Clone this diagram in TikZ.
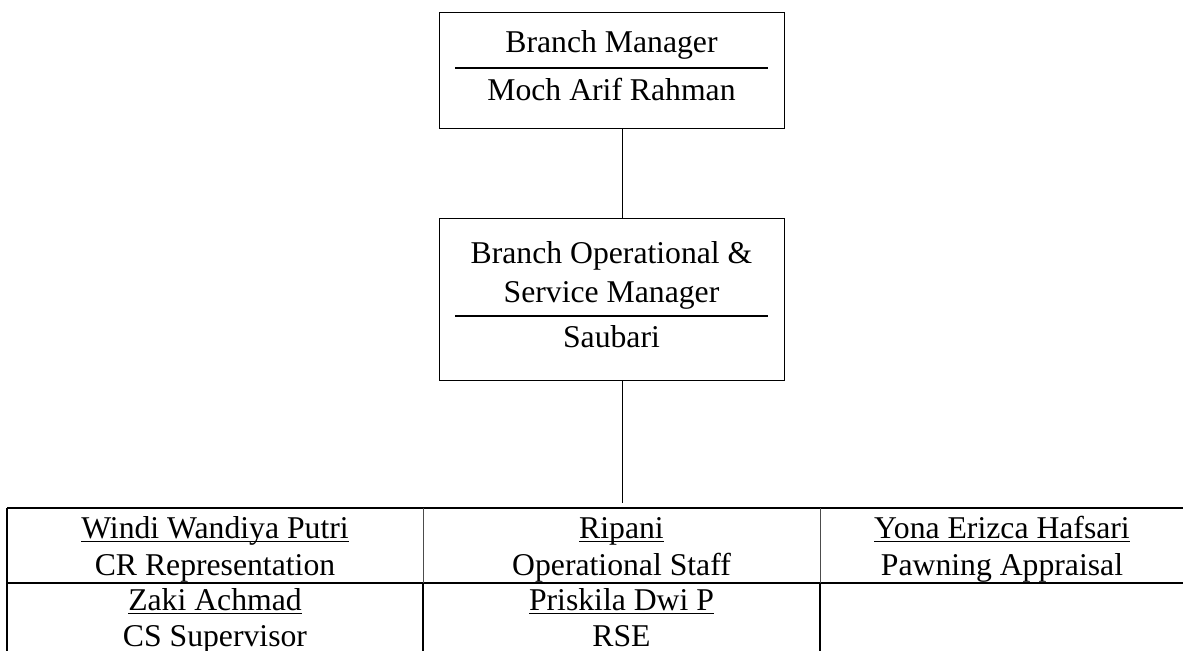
\documentclass[tikz,border=0pt]{standalone}
\usepackage{fontspec}
\setmainfont{Liberation Serif}
\newcommand\ulname[1]{\setbox0\hbox{#1}\rlap{\rule[-2pt]{\wd0}{0.7pt}}\box0}
\begin{document}
\begin{tikzpicture}[x=0.5pt,y=-0.5pt,
  box/.style={draw, line width=0.5pt, inner sep=0, minimum width=172.5pt},
  txt/.style={anchor=base, inner sep=0, font=\fontsize{15.85}{19}\selectfont},
  sep/.style={line width=1pt},
  conn/.style={line width=0.5pt},
  tline/.style={line width=1pt},
  thin/.style={line width=0.5pt, black!70}]
\useasboundingbox (0,0) rectangle (1183,650);
% top box
\node[box, minimum height=58pt] (bm) at (611.5,70) {};
\node[txt] (bmt) at (611.5,52) {Branch Manager};
\node[txt] (bmn) at (611.5,100) {Moch Arif Rahman};
\coordinate (bml) at (455,68);
\coordinate (bmr) at (768,68);
\draw[sep] (bml) -- (bmr);
% middle box
\node[box, minimum height=81pt] (om) at (611.5,299) {};
\node[txt] (omt1) at (611.5,263) {Branch Operational \&};
\node[txt] (omt2) at (611.5,302) {Service Manager};
\node[txt] (omn) at (611.5,347) {Saubari};
\coordinate (oml) at (455,316);
\coordinate (omr) at (768,316);
\draw[sep] (oml) -- (omr);
% connectors
\coordinate (c1) at (622,128);
\coordinate (c2) at (622,218);
\coordinate (c3) at (622,380);
\coordinate (tabtop) at (622,503);
\draw[conn] (c1) -- (c2);
\draw[conn] (c3) -- (tabtop);
% table lines
\coordinate (tl) at (7,508);
\coordinate (tr) at (1190,508);
\coordinate (ml) at (7,583);
\coordinate (mr) at (1190,583);
\coordinate (bl) at (7,660);
\coordinate (v1a) at (423,508);
\coordinate (v1b) at (423,583);
\coordinate (v1c) at (423,660);
\coordinate (v2a) at (820,508);
\coordinate (v2b) at (820,583);
\coordinate (v2c) at (820,660);
\draw[tline] (tl) -- (tr);
\draw[tline] (ml) -- (mr);
\draw[tline] (tl) -- (bl);
\draw[thin] (v1a) -- (v1b);
\draw[thin] (v2a) -- (v2b);
\draw[tline] (v1b) -- (v1c);
\draw[tline] (v2b) -- (v2c);
% table text
\node[txt] (n11) at (215,538) {\ulname{Windi Wandiya Putri}};
\node[txt] (r11) at (215,575) {CR Representation};
\node[txt] (n12) at (621.5,538) {\ulname{Ripani}};
\node[txt] (r12) at (621.5,575) {Operational Staff};
\node[txt] (n13) at (1002,538) {\ulname{Yona Erizca Hafsari}};
\node[txt] (r13) at (1002,575) {Pawning Appraisal};
\node[txt] (n21) at (215,610) {\ulname{Zaki Achmad}};
\node[txt] (r21) at (215,646) {CS Supervisor};
\node[txt] (n22) at (621.5,610) {\ulname{Priskila Dwi P}};
\node[txt] (r22) at (621.5,646) {RSE};
\end{tikzpicture}
\end{document}
